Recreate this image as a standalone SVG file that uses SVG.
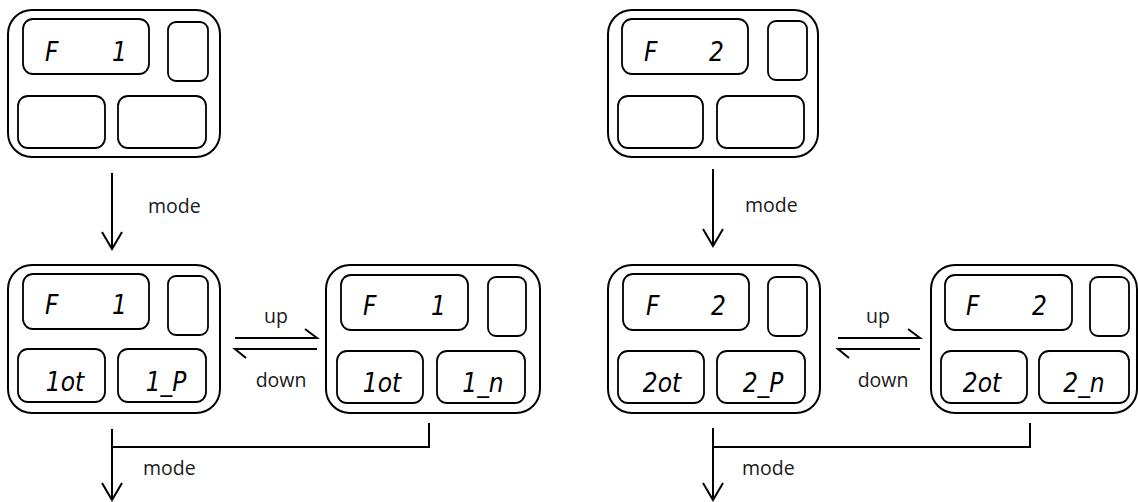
<svg xmlns="http://www.w3.org/2000/svg" width="1138" height="502" viewBox="0 0 1138 502">
<defs>
<style>
.outer{fill:#fff;stroke:#000;stroke-width:2}
.in{fill:#fff;stroke:#000;stroke-width:1.8}
.seg{font-family:"DejaVu Sans","Liberation Sans",sans-serif;font-stretch:condensed;font-style:italic;font-size:26px;fill:#000}
.lbl{font-family:"Open Sans","Noto Sans",sans-serif;font-size:19.5px;fill:#1a1a1a}
.ln{fill:none;stroke:#000;stroke-width:2}
</style>
<marker id="v" markerUnits="userSpaceOnUse" markerWidth="24" markerHeight="24" viewBox="-20 -12 24 24" refX="0" refY="0" orient="auto">
<path d="M-17,-10 L0,0 L-17,10" fill="none" stroke="#000" stroke-width="2"/>
</marker>
</defs>
<rect width="1138" height="502" fill="#fff"/>

<g id="node-f1">
<rect class="outer" x="8" y="10" width="212" height="147" rx="24"/>
<rect class="in" x="23" y="19" width="126" height="55" rx="10"/>
<rect class="in" x="168" y="22" width="40" height="59" rx="8"/>
<rect class="in" x="18" y="96" width="87" height="52" rx="10"/>
<rect class="in" x="118" y="96" width="88" height="52" rx="10"/>
<text class="seg" y="61"><tspan x="45">F</tspan><tspan x="112">1</tspan></text>
</g>

<g id="node-f1-p">
<rect class="outer" x="8" y="265" width="212" height="148" rx="24"/>
<rect class="in" x="23" y="274" width="126" height="55" rx="10"/>
<rect class="in" x="168" y="276" width="40" height="59" rx="8"/>
<rect class="in" x="18" y="349" width="87" height="53" rx="10"/>
<rect class="in" x="118" y="349" width="88" height="53" rx="10"/>
<text class="seg" y="314"><tspan x="45">F</tspan><tspan x="112">1</tspan></text>
<text class="seg" x="65" y="391" text-anchor="middle">1ot</text>
<text class="seg" x="166" y="391" text-anchor="middle">1_P</text>
</g>

<g id="node-f1-n">
<rect class="outer" x="326" y="265" width="214" height="148" rx="24"/>
<rect class="in" x="341" y="275" width="127" height="55" rx="10"/>
<rect class="in" x="488" y="277" width="38" height="59" rx="8"/>
<rect class="in" x="337" y="351" width="86" height="52" rx="10"/>
<rect class="in" x="437" y="351" width="88" height="52" rx="10"/>
<text class="seg" y="315"><tspan x="363">F</tspan><tspan x="431">1</tspan></text>
<text class="seg" x="382" y="392" text-anchor="middle">1ot</text>
<text class="seg" x="483" y="392" text-anchor="middle">1_n</text>
</g>

<g id="node-f2">
<rect class="outer" x="608" y="10" width="210" height="147" rx="24"/>
<rect class="in" x="622" y="19" width="126" height="55" rx="10"/>
<rect class="in" x="768" y="21" width="39" height="59" rx="8"/>
<rect class="in" x="618" y="96" width="85" height="52" rx="10"/>
<rect class="in" x="717" y="96" width="87" height="52" rx="10"/>
<text class="seg" y="61"><tspan x="644">F</tspan><tspan x="709">2</tspan></text>
</g>

<g id="node-f2-p">
<rect class="outer" x="608" y="265" width="212" height="148" rx="24"/>
<rect class="in" x="623" y="274" width="126" height="56" rx="10"/>
<rect class="in" x="768" y="277" width="39" height="59" rx="8"/>
<rect class="in" x="618" y="351" width="86" height="52" rx="10"/>
<rect class="in" x="717" y="351" width="88" height="52" rx="10"/>
<text class="seg" y="315"><tspan x="646">F</tspan><tspan x="711">2</tspan></text>
<text class="seg" x="662" y="392" text-anchor="middle">2ot</text>
<text class="seg" x="763" y="392" text-anchor="middle">2_P</text>
</g>

<g id="node-f2-n">
<rect class="outer" x="931" y="265" width="206" height="148" rx="24"/>
<rect class="in" x="945" y="275" width="127" height="55" rx="10"/>
<rect class="in" x="1090" y="277" width="39" height="59" rx="8"/>
<rect class="in" x="941" y="351" width="86" height="52" rx="10"/>
<rect class="in" x="1039" y="351" width="90" height="52" rx="10"/>
<text class="seg" y="315"><tspan x="966">F</tspan><tspan x="1032">2</tspan></text>
<text class="seg" x="982" y="392" text-anchor="middle">2ot</text>
<text class="seg" x="1084" y="392" text-anchor="middle">2_n</text>
</g>

<g id="connectors">
<path class="ln" d="M112,173 V249" marker-end="url(#v)"/>
<path class="ln" d="M713,169 V246" marker-end="url(#v)"/>
<path class="ln" d="M235,338 H317 L305,329"/>
<path class="ln" d="M317,349 H235 L246,358"/>
<path class="ln" d="M838,338 H920 L908,329"/>
<path class="ln" d="M920,349 H838 L849,358"/>
<path class="ln" d="M429,423 V447 H112"/>
<path class="ln" d="M112,429 V500" marker-end="url(#v)"/>
<path class="ln" d="M1030,423 V447 H713"/>
<path class="ln" d="M713,428 V500" marker-end="url(#v)"/>
</g>

<g id="labels">
<text class="lbl" x="148" y="213">mode</text>
<text class="lbl" x="745" y="212">mode</text>
<text class="lbl" x="276" y="323" text-anchor="middle">up</text>
<text class="lbl" x="281" y="387" text-anchor="middle">down</text>
<text class="lbl" x="878" y="323" text-anchor="middle">up</text>
<text class="lbl" x="883" y="387" text-anchor="middle">down</text>
<text class="lbl" x="143" y="475">mode</text>
<text class="lbl" x="742" y="475">mode</text>
</g>
</svg>
